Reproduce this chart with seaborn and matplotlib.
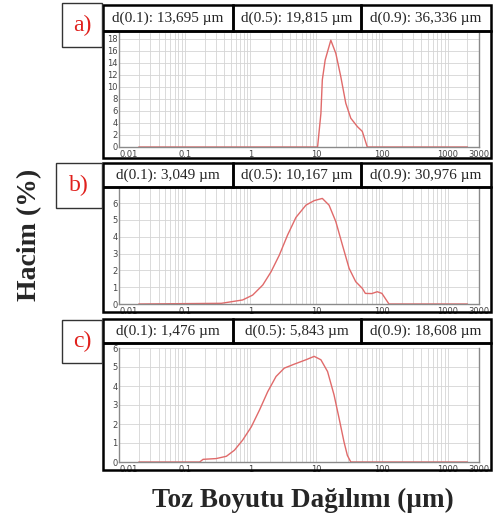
"""
Particle size distribution panels (a, b, c) - laser diffraction output.
"""
import matplotlib
matplotlib.use("Agg")
import matplotlib.pyplot as plt
from matplotlib.patches import Rectangle
from matplotlib.ticker import FixedLocator, FixedFormatter, NullFormatter, LogLocator
import seaborn as sns

W, H = 499, 528

# particle size (um) vs volume (%)
size_a = [0.02, 10.5, 11.8, 12.4, 13.7, 16.7, 19.9, 23.7, 28.2, 33.6, 42.3, 50.3, 59.9, 2000]
vol_a = [0, 0, 5.6, 11.2, 14.5, 17.8, 15.6, 11.7, 7.3, 4.8, 3.4, 2.6, 0, 0]

size_b = [0.02, 0.36, 0.76, 1.08, 1.54, 2.06, 2.75, 3.67, 4.92, 6.98, 9.33, 12.4, 15.7,
          19.9, 25.1, 31.7, 39.9, 50.3, 56, 70, 85, 100, 128, 2000]
vol_b = [0, 0.04, 0.24, 0.53, 1.13, 1.92, 2.91, 4.1, 5.15, 5.88, 6.15, 6.28, 5.88,
         4.9, 3.5, 2.12, 1.33, 0.93, 0.63, 0.62, 0.73, 0.63, 0, 0]

size_c = [0.02, 0.169, 0.19, 0.30, 0.43, 0.57, 0.76, 1.03, 1.37, 1.83, 2.45, 3.27, 4.64,
          6.98, 9.33, 11.8, 14.9, 18.7, 22.3, 26.5, 29.8, 33.6, 2000]
vol_c = [0, 0, 0.14, 0.18, 0.3, 0.62, 1.15, 1.85, 2.73, 3.7, 4.5, 4.94, 5.15,
         5.38, 5.56, 5.38, 4.76, 3.53, 2.3, 1.06, 0.35, 0, 0]

panel_labels = ["a)", "b)", "c)"]
d_values = [
    ["13,695", "19,815", "36,336"],
    ["3,049", "10,167", "30,976"],
    ["1,476", "5,843", "18,608"],
]
d_names = ["d(0.1)", "d(0.5)", "d(0.9)"]

x_ticks = [0.01, 0.1, 1, 10, 100, 1000, 3000]
x_ticklabels = ["0.01", "0.1", "1", "10", "100", "1000", "3000"]

# pixel layout: label box, header row, plot box, axes area, ylim, y ticks
PANELS = [
    dict(label=(62, 3, 102, 47), header=(103, 5, 491, 31), box=(103, 31, 491, 158),
         axes=(119, 33, 479, 147), ylim=19, yticks=list(range(0, 19, 2))),
    dict(label=(56, 163, 102, 208), header=(103, 163, 491, 187), box=(103, 187, 491, 312),
         axes=(119, 188, 479, 304), ylim=6.9, yticks=list(range(0, 7))),
    dict(label=(62, 320, 102, 363), header=(103, 319, 491, 343), box=(103, 343, 491, 470),
         axes=(119, 348, 479, 462), ylim=6, yticks=list(range(0, 7))),
]
CELL_SPLITS = [103, 233, 361, 491]

LINE_COLOR = "#e06a6a"
GRID_COLOR = "#d4d4d4"
SERIF = ["Liberation Serif", "DejaVu Serif"]


def px_rect(x0, y0, x1, y1):
    return [x0 / W, 1 - y1 / H, (x1 - x0) / W, (y1 - y0) / H]


def add_box(fig, x0, y0, x1, y1, lw=1.6, color="black"):
    r = px_rect(x0, y0, x1, y1)
    fig.add_artist(Rectangle((r[0], r[1]), r[2], r[3], transform=fig.transFigure,
                             fill=False, lw=lw, edgecolor=color, zorder=5))


sns.set_style("white")
plt.rcParams["font.family"] = ["DejaVu Sans"]

fig = plt.figure(figsize=(W / 100, H / 100), dpi=100)

series = [(size_a, vol_a), (size_b, vol_b), (size_c, vol_c)]

for i, (p, (xs, ys)) in enumerate(zip(PANELS, series)):
    ax = fig.add_axes(px_rect(*p["axes"]))
    sns.lineplot(x=xs, y=ys, ax=ax, color=LINE_COLOR, lw=1, sort=False)
    ax.set_xscale("log")
    ax.set_xlim(0.01, 3000)
    ax.set_ylim(0, p["ylim"])
    ax.xaxis.set_major_locator(FixedLocator(x_ticks))
    ax.xaxis.set_major_formatter(FixedFormatter(x_ticklabels))
    ax.xaxis.set_minor_locator(LogLocator(base=10, subs=range(2, 10), numticks=20))
    ax.xaxis.set_minor_formatter(NullFormatter())
    ax.set_yticks(p["yticks"])
    ax.grid(True, which="both", axis="x", color=GRID_COLOR, lw=0.6)
    ax.grid(True, which="major", axis="y", color=GRID_COLOR, lw=0.6)
    ax.set_axisbelow(True)
    ax.tick_params(which="both", length=0, labelsize=6, colors="#444444", pad=1)
    ax.tick_params(axis="x", pad=2)
    xlabels = ax.get_xticklabels()
    xlabels[0].set_ha("left")
    for s in ["left", "bottom", "right"]:
        ax.spines[s].set_color("#8a8a8a")
        ax.spines[s].set_linewidth(1)
    ax.spines["top"].set_visible(False)

    # boxes around plot and header cells
    add_box(fig, *p["box"], lw=1.8)
    hx0, hy0, hx1, hy1 = p["header"]
    for j in range(3):
        cx0, cx1 = CELL_SPLITS[j], CELL_SPLITS[j + 1]
        add_box(fig, cx0, hy0, cx1, hy1, lw=1.8)
        fig.text(((cx0 + cx1) / 2) / W, 1 - ((hy0 + hy1) / 2) / H,
                 f"{d_names[j]}: {d_values[i][j]} µm", ha="center", va="center",
                 fontsize=11, family=SERIF)

    # panel letter
    lx0, ly0, lx1, ly1 = p["label"]
    add_box(fig, lx0, ly0, lx1, ly1, lw=1.0, color="#333333")
    fig.text(((lx0 + lx1) / 2) / W, 1 - ((ly0 + ly1) / 2) / H, panel_labels[i],
             ha="center", va="center", fontsize=17, color="#e0201c", family=SERIF)

fig.text(30 / W, 1 - 235 / H, "Hacim (%)", rotation=90, ha="center", va="center",
         fontsize=20, fontweight="bold", family=SERIF)
fig.text(303 / W, 1 - 500 / H, "Toz Boyutu Dağılımı (µm)", ha="center", va="center",
         fontsize=19.5, fontweight="bold", family=SERIF)

fig.savefig("out.png", dpi=100)
